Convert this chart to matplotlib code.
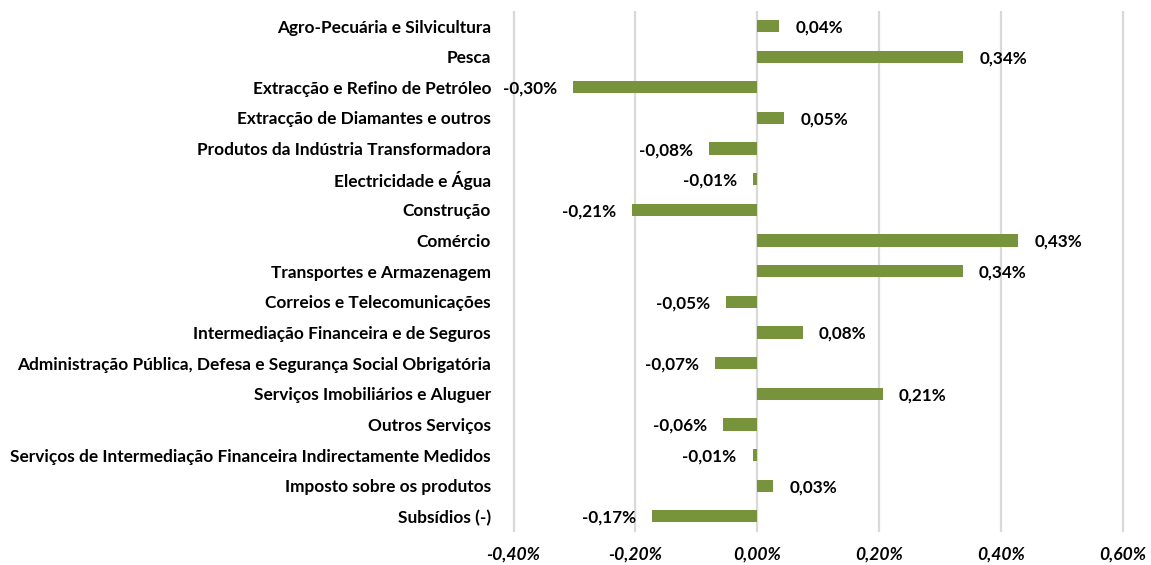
import numpy as np
import matplotlib.pyplot as plt
from matplotlib.ticker import FuncFormatter

# --- data (percent) ---
sectors = [
    "Agro-Pecuária e Silvicultura",
    "Pesca",
    "Extracção e Refino de Petróleo",
    "Extracção de Diamantes e outros",
    "Produtos da Indústria Transformadora",
    "Electricidade e Água",
    "Construção",
    "Comércio",
    "Transportes e Armazenagem",
    "Correios e Telecomunicações",
    "Intermediação Financeira e de Seguros",
    "Administração Pública, Defesa e Segurança Social Obrigatória",
    "Serviços Imobiliários e Aluguer",
    "Outros Serviços",
    "Serviços de Intermediação Financeira Indirectamente Medidos",
    "Imposto sobre os produtos",
    "Subsídios (-)",
]
values = [0.036, 0.338, -0.302, 0.044, -0.080, -0.007, -0.206, 0.428, 0.337,
          -0.051, 0.075, -0.069, 0.206, -0.057, -0.008, 0.026, -0.173]
labels = ["0,04%", "0,34%", "-0,30%", "0,05%", "-0,08%", "-0,01%", "-0,21%",
          "0,43%", "0,34%", "-0,05%", "0,08%", "-0,07%", "0,21%", "-0,06%",
          "-0,01%", "0,03%", "-0,17%"]
xticks = [-0.4, -0.2, 0.0, 0.2, 0.4, 0.6]

plt.rcParams['font.family'] = ['Lato', 'DejaVu Sans']

fig = plt.figure(figsize=(11.51, 5.65), dpi=100)
ax = fig.add_axes([0.4435, 0.059, 0.535, 0.922])

y = np.arange(len(sectors))
ax.barh(y, values, height=0.4, color='#77933C', zorder=3)

# value labels just outside the bar ends
for yi, v, lab in zip(y, values, labels):
    if v >= 0:
        ax.annotate(lab, (v, yi), xytext=(11.5, -1), textcoords='offset points',
                    ha='left', va='center', fontsize=12.3, fontweight='bold')
    else:
        ax.annotate(lab, (v, yi), xytext=(-11.5, -1), textcoords='offset points',
                    ha='right', va='center', fontsize=12.3, fontweight='bold')

ax.set_xlim(-0.405, 0.605)
ax.set_ylim(len(sectors) - 0.5, -0.5)
ax.set_xticks(xticks)
ax.xaxis.set_major_formatter(FuncFormatter(lambda v, p: f"{v:.2f}%".replace('.', ',')))
ax.set_yticks(y)
ax.set_yticklabels(sectors)

ax.grid(axis='x', color='#D9D9D9', linewidth=1.6, zorder=0)
for s in ax.spines.values():
    s.set_visible(False)
ax.tick_params(axis='both', length=0)
ax.tick_params(axis='y', pad=14, labelsize=12.4)
ax.tick_params(axis='x', pad=11, labelsize=12.6)
for t in ax.get_yticklabels():
    t.set_fontweight('bold')
for t in ax.get_xticklabels():
    t.set_fontweight('bold')
    t.set_fontstyle('italic')

fig.savefig('out.png', dpi=100)
